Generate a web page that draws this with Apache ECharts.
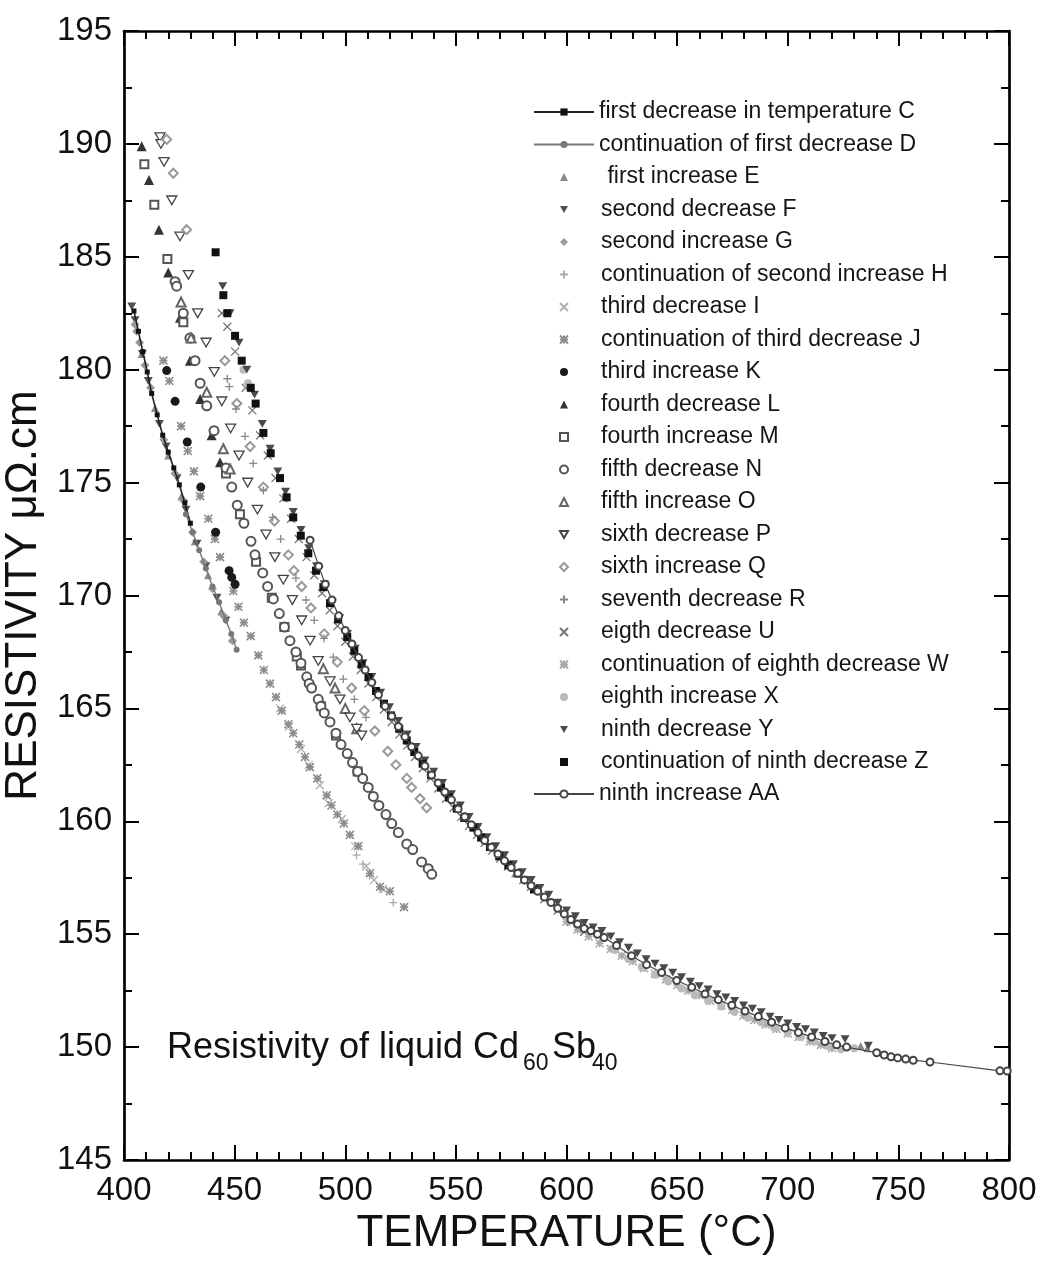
<!DOCTYPE html>
<html><head><meta charset="utf-8">
<script src="https://cdn.jsdelivr.net/npm/echarts@6/dist/echarts.min.js"></script>
<style>html,body{margin:0;padding:0;background:#fff}#c{width:1040px;height:1264px}</style>
</head><body><div id="c"></div>
<script>
// ---- axis ticks ----
const xTickValues = [400, 450, 500, 550, 600, 650, 700, 750, 800];
const yTickValues = [145, 150, 155, 160, 165, 170, 175, 180, 185, 190, 195];

// ---- series names ----
const names = [
  'first decrease in temperature C', 'continuation of first decrease D', ' first increase E',
  'second decrease F', 'second increase G', 'continuation of second increase H',
  'third decrease I', 'continuation of third decrease J', 'third increase K',
  'fourth decrease L', 'fourth increase M', 'fifth decrease N', 'fifth increase O',
  'sixth decrease P', 'sixth increase Q', 'seventh decrease R', 'eigth decrease U',
  'continuation of eighth decrease W', 'eighth increase X', 'ninth decrease Y',
  'continuation of ninth decrease Z', 'ninth increase AA'
];

// ---- data [temperature °C, resistivity µΩ.cm] ----
const serC = [[404.5,182.6],[406.5,181.7],[408.5,180.8],[410.5,179.9],[412.5,178.95],[415,178.0],[417.5,177.1],[420,176.35],[422.5,175.65],[425,174.9],[427.5,174.1],[430,173.2]];
const serD = [[428,173.6],[431,172.8],[434,172.0],[437,171.2],[440,170.4],[443,169.7],[446,168.9],[448.5,168.3],[450.9,167.6]];
const serE = [[408,180.7],[414,178.3],[420,176.2],[426,174.4],[432,172.4],[438,170.9],[444,169.3],[449,168.1],[733,150.05],[736,149.95]];
const serF = [[403.5,182.8],[405,182.2],[408.3,180.7],[411,179.5],[416,177.6],[419,176.6],[424,175.2],[428,173.8],[433,172.3],[437,171.3],[442,169.9],[446,168.9]];
const serG = [[405,182.0],[405.7,181.7],[407,181.2],[409.5,180.2],[412,179.2],[418,176.9],[423,175.4],[427,174.2],[431,172.8],[436,171.5],[440,170.3],[445,169.1],[449,168.0]];
const serH = [[505.1,158.5],[508,158.1],[511,157.6],[516.5,157.0],[521.7,156.4]];
const serI = [[470.5,165.0],[474.5,164.2],[480,163.2],[483.5,162.5],[488.5,161.6],[492.5,160.8],[498.5,160.1],[504.5,158.9],[509.5,158.0],[513,157.4],[517,157.0]];
const serJ = [[417.8,180.4],[420.5,179.5],[425.8,177.5],[428.8,176.4],[431.6,175.5],[434.4,174.4],[438.1,173.4],[441.1,172.5],[443.4,171.7],[449.4,170.2],[451.7,169.5],[454.2,168.8],[457.3,168.2],[460.7,167.35],[463.2,166.7],[466.0,166.1],[468.7,165.5],[471.3,164.9],[474.3,164.3],[476.5,163.9],[479.2,163.4],[481.8,162.85],[484.0,162.4],[487.4,161.9],[491.6,161.15],[493.8,160.7],[496.4,160.3],[499.4,159.9],[502.1,159.4],[505.9,158.9],[511.2,157.7],[515.7,157.1],[520.2,156.9],[526.6,156.2]];
const serK = [[419.3,179.96],[423.1,178.6],[428.6,176.8],[434.7,174.8],[441.4,172.8],[447.5,171.1],[448.7,170.8],[450.2,170.5]];
const serL = [[408.0,189.9],[411.3,188.4],[415.8,186.2],[420.0,184.3],[425.3,182.3],[429.8,180.4],[434.4,178.7],[439.6,177.1],[443.4,175.9]];
const serM = [[409.2,189.1],[413.7,187.3],[419.6,184.9],[426.8,182.1],[446.1,175.4],[452.4,173.6],[459.7,171.5],[466.8,169.9],[472.5,168.6],[478.1,167.3],[480,166.9],[489,165.1],[495.8,163.8],[505.6,162.2]];
const serN = [[423.1,183.9],[423.8,183.7],[426.8,182.5],[429.8,181.4],[432.1,180.4],[434.4,179.4],[437.4,178.4],[440.7,177.3],[446.1,175.65],[448.7,174.8],[451.2,174.0],[454.2,173.2],[457.4,172.4],[459.2,171.8],[462.7,171.0],[464.9,170.4],[467.5,169.85],[470.2,169.2],[472.5,168.6],[475.0,168.0],[477.7,167.5],[480.0,167.0],[482.6,166.4],[483.7,166.1],[484.8,165.9],[487.8,165.4],[489.0,165.1],[490.5,164.8],[493.1,164.4],[495.8,163.9],[498.1,163.4],[500.9,163.0],[503.3,162.6],[505.6,162.2],[507.9,161.9],[510.4,161.5],[512.7,161.1],[515.2,160.7],[518.4,160.3],[521.0,159.9],[524.0,159.5],[527.8,159.0],[530.5,158.75],[534.5,158.2],[537.5,157.9],[539.1,157.65]];
const serO = [[425.8,183.0],[430.3,181.4],[437.4,179.0],[444.9,176.5],[448.0,175.6],[490.1,166.76],[495.4,165.9],[500,165.0],[505.2,164.1]];
const serP = [[416.3,190.3],[416.7,190.0],[418.1,189.2],[421.6,187.5],[425.3,185.9],[429.1,184.2],[433.3,182.5],[437.1,181.2],[440.8,179.9],[444.2,178.6],[448.2,177.4],[452.0,176.2],[455.9,175.0],[460.3,173.8],[464.2,172.7],[468.2,171.7],[472.0,170.7],[476.1,169.8],[480.3,168.9],[484.1,168.0],[487.8,167.1],[493.1,166.2],[497.6,165.4],[502.1,164.6],[505.2,164.1],[507.4,163.8]];
const serQ = [[419.3,190.2],[422.3,188.7],[428.3,186.2],[445.6,180.4],[451,178.5],[457,176.6],[463,174.8],[468,173.3],[474.3,171.8],[476.8,171.1],[480.3,170.4],[484.5,169.45],[490.5,168.3],[496.4,167.05],[502.9,165.9],[508.6,164.9],[513.4,164.0],[519.2,163.1],[522.9,162.5],[527.8,161.9],[530.0,161.5],[533.8,161.0],[536.8,160.6]];
const serR = [[446.7,179.6],[447.6,179.25],[450.6,178.26],[454.7,177.05],[458.4,175.85],[463.0,174.65],[467.2,173.46],[470.8,172.5],[477.7,170.77],[482.3,169.8],[486.0,168.9],[490.4,168.1],[494.6,167.27],[499.1,166.3],[504.1,165.4],[509.4,164.6]];
const serU = [[444.2,182.5],[446.7,181.9],[450.2,180.8],[455,179.2],[458,178.2],[461.5,177.1],[465,176.2],[468.5,175.2],[472,174.3],[475.5,173.4],[479,172.5],[482.5,171.7],[486,170.9],[489.5,170.1],[493,169.35],[496.5,168.65],[500,167.95],[503.5,167.3],[507,166.7],[510.5,166.1],[514,165.5],[517.5,164.95],[521,164.4],[524.5,163.85],[528,163.35],[531.5,162.85],[535,162.35],[538.5,161.9],[542,161.45],[545.5,161.0],[549,160.6],[552.5,160.2],[556,159.8],[559.5,159.4],[563,159.05],[566.5,158.7],[570,158.35],[573.5,158.0],[577,157.7],[580.5,157.4],[584,157.1],[590,156.55],[596,156.05],[602,155.55],[608,155.1]];
const serW = [[600,155.55],[605,155.2],[610,154.9],[615,154.6],[620,154.35],[625,154.05],[630,153.8],[635,153.5],[640,153.25],[645,153.0],[650,152.75],[655,152.5],[660,152.3],[665,152.05],[670,151.85],[675,151.65],[680,151.4],[685,151.2],[690,151.0],[695,150.8],[700,150.6],[705,150.45],[710,150.25],[715,150.1],[720,149.95]];
const serX = [[454,180.0],[456,179.4],[622,154.3],[628,153.9],[634,153.55],[640,153.2],[646,152.9],[652,152.6],[658,152.3],[664,152.05],[670,151.8],[676,151.55],[682,151.3],[688,151.1],[694,150.85],[700,150.65],[706,150.45],[712,150.25],[718,150.05],[724,149.9],[730,149.95]];
const serY = [[444.6,183.7],[447.9,182.5],[452,181.2],[455.5,180.0],[459,178.9],[462.5,177.6],[466,176.5],[469.5,175.5],[473,174.6],[476.5,173.7],[480,172.9],[483.5,172.1],[487,171.3],[490.5,170.5],[494,169.7],[497.5,169.0],[501,168.3],[504.5,167.65],[508,167.0],[512,166.4],[516,165.7],[520,165.05],[524,164.45],[528,163.85],[532,163.3],[536,162.7],[540,162.2],[544,161.7],[548,161.2],[552,160.7],[556,160.2],[560,159.75],[564,159.3],[568,158.9],[572,158.5],[576,158.1],[580,157.75],[584,157.4],[588,157.05],[592,156.75],[596,156.4],[600,156.05],[604,155.8],[608,155.5],[612,155.3],[616,155.15],[620,154.9],[624,154.65],[628,154.4],[632,154.15],[636,153.9],[640,153.7],[644,153.5],[648,153.3],[652,153.1],[656,152.9],[660,152.7],[664,152.55],[668,152.35],[672,152.2],[676,152.05],[680,151.85],[684,151.7],[688,151.55],[692,151.35],[696,151.2],[700,151.05],[704,150.9],[708,150.8],[712,150.65],[716,150.5],[720,150.4],[725.9,150.35],[736.4,150.06]];
const serZ = [[441.4,185.2],[444.9,183.3],[446.7,182.5],[450.2,181.5],[453.2,180.4],[457.3,179.2],[459.5,178.5],[463.0,177.2],[466.3,176.3],[470.5,175.2],[473.5,174.35],[476.5,173.46],[479.9,172.65],[483.3,171.87],[486.8,171.1],[490.1,170.37],[493.1,169.66],[496.8,168.94],[500.9,168.16],[504.1,167.55],[507.4,166.95],[510.5,166.39],[513.9,165.77],[517.5,165.21],[520.7,164.69],[524.4,164.10],[527.8,163.58],[531.2,163.07],[535.0,162.55],[538.8,162.04],[543.3,161.49],[546.9,161.05],[550.4,160.56],[553.8,160.15],[557.9,159.72],[561.4,159.28],[565.4,158.86],[569.6,158.45],[573.7,158.05],[577.9,157.69],[585.3,156.98]];
const serAA = [[484.1,172.45],[488,171.3],[491,170.5],[494,169.8],[497,169.1],[500,168.45],[503,167.85],[506,167.25],[509,166.7],[512,166.15],[515,165.6],[518,165.1],[521,164.65],[524,164.2],[527,163.75],[530,163.3],[533,162.9],[536,162.45],[539,162.05],[542,161.7],[545,161.3],[548,160.95],[551,160.55],[554,160.2],[557,159.85],[560,159.5],[563,159.15],[566,158.85],[569,158.55],[572,158.25],[575,157.95],[578,157.7],[581,157.4],[584,157.15],[587,156.9],[590,156.65],[593,156.4],[596,156.15],[599,155.9],[602,155.65],[605,155.45],[608,155.25],[611,155.15],[614,155.0],[617,154.85],[622.6,154.5],[629.4,154.05],[636.2,153.65],[643,153.3],[649.8,152.95],[656.6,152.65],[662.6,152.35],[668.6,152.1],[674.7,151.85],[680.7,151.6],[686.7,151.35],[692.7,151.1],[698.8,150.85],[704.8,150.65],[710.8,150.45],[716.8,150.25],[722.1,150.1],[726.6,150.0],[740.2,149.75],[743.6,149.65],[746.7,149.57],[749.7,149.52],[753.3,149.47],[756.7,149.42],[764.3,149.34],[795.9,148.95],[799.2,148.94]];

// ---- annotation text ----
const noteMain = 'Resistivity of liquid Cd';
const noteSub1 = '60';
const noteMid = 'Sb';
const noteSub2 = '40';

const FONT = '"Liberation Sans", Arial, Helvetica, sans-serif';
const P_PLUS = 'path://M5,0L5,10M0,5L10,5';
const P_X = 'path://M0,0L10,10M10,0L0,10';
const P_AST = 'path://M0,0L10,10M10,0L0,10M5,0L5,10M0,5L10,5';
const P_TDOWN = 'path://M0,0L10,0L5,8.66Z';

function sc(name, data, symbol, size, color, opts) {
  opts = opts || {};
  const s = {
    name: name, type: 'scatter', data: data, symbol: symbol, symbolSize: size,
    symbolKeepAspect: true,
    itemStyle: { color: color, opacity: 1 },
    emphasis: { disabled: true }, silent: true, animation: false, z: opts.z || 2
  };
  if (opts.stroke) {
    s.itemStyle = { color: color, borderColor: color, borderWidth: opts.stroke, opacity: 1 };
  }
  if (opts.empty) {
    s.itemStyle = { color: color, borderWidth: opts.empty, opacity: 1 };
  }
  if (opts.hollow) {
    s.itemStyle = { color: '#ffffff', borderColor: color, borderWidth: opts.hollow, opacity: 1 };
  }
  return s;
}
function ln(name, data, symbol, size, color, lineColor, lw) {
  return {
    name: name, type: 'line', data: data, symbol: symbol, symbolSize: size,
    showSymbol: true, lineStyle: { color: lineColor, width: lw },
    itemStyle: { color: color, borderWidth: 1.2 },
    emphasis: { disabled: true }, silent: true, animation: false, z: 3
  };
}

const series = [
  ln(names[0], serC, 'rect', 5, '#111', '#222', 1.6),
  ln(names[1], serD, 'circle', 6, '#777', '#777', 1.4),
  sc(names[2], serE, 'triangle', 8, '#8a8a8a'),
  sc(names[3], serF, P_TDOWN, 9, '#505050'),
  sc(names[4], serG, 'diamond', 9, '#9a9a9a'),
  sc(names[5], serH, P_PLUS, 8, '#aaaaaa', {stroke: 1.3}),
  sc(names[6], serI, P_X, 8, '#b0b0b0', {stroke: 1.3}),
  sc(names[7], serJ, P_AST, 8, '#8c8c8c', {stroke: 1.6}),
  sc(names[8], serK, 'circle', 9, '#1a1a1a'),
  sc(names[9], serL, 'triangle', 10, '#333'),
  sc(names[10], serM, 'emptyRect', 8, '#555', {empty: 1.2}),
  sc(names[11], serN, 'emptyCircle', 9, '#555', {empty: 1.2}),
  sc(names[12], serO, 'emptyTriangle', 9, '#666', {empty: 1.2}),
  sc(names[13], serP, P_TDOWN, 10, '#444', {hollow: 1.3}),
  sc(names[14], serQ, 'emptyDiamond', 9, '#999', {empty: 1.2}),
  sc(names[15], serR, P_PLUS, 8, '#888', {stroke: 1.3}),
  sc(names[16], serU, P_X, 8, '#777', {stroke: 1.3}),
  sc(names[17], serW, P_AST, 8, '#aaaaaa', {stroke: 1.6}),
  sc(names[18], serX, 'circle', 8, '#bbbbbb'),
  sc(names[19], serY, P_TDOWN, 9, '#4a4a4a'),
  sc(names[20], serZ, 'rect', 8, '#111', {z: 4}),
  {
    name: names[21], type: 'line', data: serAA, symbol: 'emptyCircle', symbolSize: 7,
    showSymbol: true, lineStyle: { color: '#444', width: 1.2 },
    itemStyle: { color: '#444', borderWidth: 1.1 },
    emphasis: { disabled: true }, silent: true, animation: false, z: 5
  }
];

const axisCommon = {
  axisLine: { show: true, onZero: false, lineStyle: { color: '#000', width: 2.7 } },
  axisTick: { show: true, inside: true, length: 15, lineStyle: { color: '#000', width: 2 } },
  minorTick: { show: true, length: 8, lineStyle: { color: '#000', width: 2 } },
  splitLine: { show: false }, minorSplitLine: { show: false }
};

const legendText = { fontSize: 23, color: '#151515', fontFamily: FONT };
const chart = echarts.init(document.getElementById('c'), null, { renderer: 'canvas' });
chart.setOption({
  backgroundColor: '#fff',
  animation: false,
  textStyle: { fontFamily: FONT },
  grid: { left: 124, right: 31, top: 31, bottom: 104, containLabel: false, outerBoundsMode: 'none' },
  xAxis: [
    Object.assign({}, axisCommon, {
      type: 'value', position: 'bottom', min: xTickValues[0], max: xTickValues[xTickValues.length - 1], interval: 50,
      minorTick: Object.assign({}, axisCommon.minorTick, { splitNumber: 5 }),
      axisLabel: { fontSize: 33, color: '#111', margin: 14, fontFamily: FONT },
      name: 'TEMPERATURE (°C)', nameLocation: 'middle', nameGap: 50,
      nameTextStyle: { fontSize: 44, color: '#111', fontFamily: FONT }
    }),
    Object.assign({}, axisCommon, {
      type: 'value', position: 'top', min: xTickValues[0], max: xTickValues[xTickValues.length - 1], interval: 50,
      minorTick: Object.assign({}, axisCommon.minorTick, { splitNumber: 5 }),
      axisLabel: { show: false }
    })
  ],
  yAxis: [
    Object.assign({}, axisCommon, {
      type: 'value', position: 'left', min: yTickValues[0], max: yTickValues[yTickValues.length - 1], interval: 5,
      minorTick: Object.assign({}, axisCommon.minorTick, { splitNumber: 2 }),
      axisLabel: { fontSize: 33, color: '#111', margin: 12, fontFamily: FONT },
      name: 'RESISTIVITY \u03bc\u03a9.cm', nameLocation: 'middle', nameGap: 64,
      nameTextStyle: { fontSize: 44, color: '#111', fontFamily: FONT }
    }),
    Object.assign({}, axisCommon, {
      type: 'value', position: 'right', min: yTickValues[0], max: yTickValues[yTickValues.length - 1], interval: 5,
      minorTick: Object.assign({}, axisCommon.minorTick, { splitNumber: 2 }),
      axisLabel: { show: false }
    })
  ],
  legend: [
    { orient: 'vertical', left: 533, top: 100.5, padding: 0, selectedMode: false,
      itemWidth: 60, itemHeight: 9, itemGap: 9.5, textStyle: legendText,
      data: names.slice(0, 2) },
    { orient: 'vertical', left: 559, top: 165.5, padding: 0, selectedMode: false,
      itemWidth: 8, itemHeight: 8, itemGap: 9.5,
      textStyle: Object.assign({}, legendText, { padding: [0, 0, 0, 28] }),
      data: names.slice(2, 21) },
    { orient: 'vertical', left: 533, top: 782.5, padding: 0, selectedMode: false,
      itemWidth: 60, itemHeight: 9, itemGap: 9.5, textStyle: legendText,
      data: names.slice(21) }
  ],
  graphic: [
    { type: 'text', left: 167, top: 1030, silent: true,
      style: { text: noteMain, font: '36px ' + FONT, fill: '#111' } },
    { type: 'text', left: 523, top: 1052, silent: true,
      style: { text: noteSub1, font: '23px ' + FONT, fill: '#111' } },
    { type: 'text', left: 552, top: 1030, silent: true,
      style: { text: noteMid, font: '36px ' + FONT, fill: '#111' } },
    { type: 'text', left: 592, top: 1052, silent: true,
      style: { text: noteSub2, font: '23px ' + FONT, fill: '#111' } }
  ],
  series: series
});
</script>
</body></html>
